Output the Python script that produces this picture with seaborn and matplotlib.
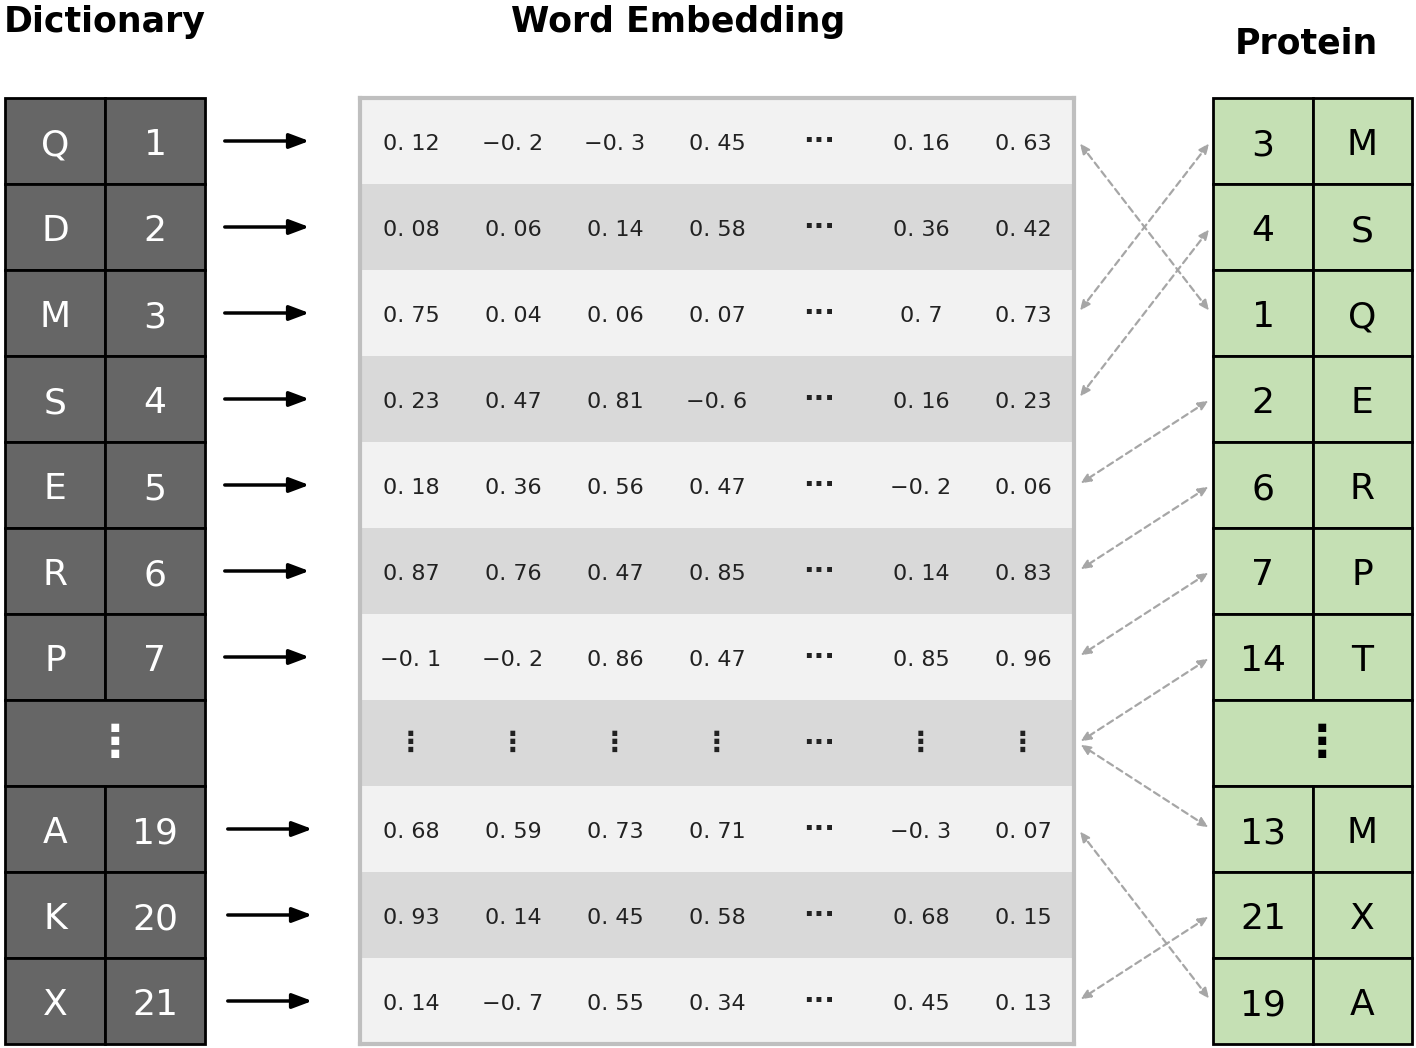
import matplotlib
matplotlib.use("Agg")
import matplotlib.pyplot as plt
from matplotlib.patches import Rectangle
import numpy as np
import seaborn as sns

# dictionary (letter -> index)
dict_letters = ["Q", "D", "M", "S", "E", "R", "P", "⋮", "A", "K", "X"]
dict_index = ["1", "2", "3", "4", "5", "6", "7", "", "19", "20", "21"]

# embedding matrix, shown as text
emb = [
    ["0. 12", "−0. 2", "−0. 3", "0. 45", "···", "0. 16", "0. 63"],
    ["0. 08", "0. 06", "0. 14", "0. 58", "···", "0. 36", "0. 42"],
    ["0. 75", "0. 04", "0. 06", "0. 07", "···", "0. 7", "0. 73"],
    ["0. 23", "0. 47", "0. 81", "−0. 6", "···", "0. 16", "0. 23"],
    ["0. 18", "0. 36", "0. 56", "0. 47", "···", "−0. 2", "0. 06"],
    ["0. 87", "0. 76", "0. 47", "0. 85", "···", "0. 14", "0. 83"],
    ["−0. 1", "−0. 2", "0. 86", "0. 47", "···", "0. 85", "0. 96"],
    ["⋮", "⋮", "⋮", "⋮", "···", "⋮", "⋮"],
    ["0. 68", "0. 59", "0. 73", "0. 71", "···", "−0. 3", "0. 07"],
    ["0. 93", "0. 14", "0. 45", "0. 58", "···", "0. 68", "0. 15"],
    ["0. 14", "−0. 7", "0. 55", "0. 34", "···", "0. 45", "0. 13"],
]

# protein sequence and which embedding row each residue points to
prot_index = ["3", "4", "1", "2", "6", "7", "14", "⋮", "13", "21", "19"]
prot_letters = ["M", "S", "Q", "E", "R", "P", "T", "", "M", "X", "A"]
prot_to_emb = [2, 3, 0, 4, 5, 6, 7, None, 7, 10, 8]

W, H = 1416, 1048
top, rh = 98, 86
n = len(dict_letters)
font = "Noto Sans CJK SC"

sns.set_style("white")
fig = plt.figure(figsize=(W / 100, H / 100), dpi=100)
ax = fig.add_axes([0, 0, 1, 1])
ax.set_xlim(0, W)
ax.set_ylim(H, 0)
ax.axis("off")

ax.text(105, 22, "Dictionary", ha="center", va="center", fontsize=25, fontweight="bold", color="black")
ax.text(678, 22, "Word Embedding", ha="center", va="center", fontsize=25, fontweight="bold", color="black")
ax.text(1306, 44, "Protein", ha="center", va="center", fontsize=25, fontweight="bold", color="black")

def yc(i):
    return top + rh * i + rh / 2

# left table
for i in range(n):
    y0 = top + rh * i
    if dict_index[i] == "":
        ax.add_patch(Rectangle((5, y0), 200, rh, fc="#666666", ec="black", lw=2))
        ax.text(115, yc(i), dict_letters[i], ha="center", va="center", color="white",
                fontsize=32, fontweight="bold", family=font)
    else:
        ax.add_patch(Rectangle((5, y0), 100, rh, fc="#666666", ec="black", lw=2))
        ax.add_patch(Rectangle((105, y0), 100, rh, fc="#666666", ec="black", lw=2))
        ax.text(55, yc(i) + 4, dict_letters[i], ha="center", va="center", color="white",
                fontsize=26, family=font)
        ax.text(155, yc(i) + 4, dict_index[i], ha="center", va="center", color="white",
                fontsize=26, family=font)
        off = 3 if i > 7 else 0
        ax.annotate("", xy=(312 + off, yc(i)), xytext=(222 + off, yc(i)),
                    arrowprops=dict(arrowstyle="-|>,head_length=1.2,head_width=0.45",
                                    color="black", lw=2.5))

# right table
for i in range(n):
    y0 = top + rh * i
    if prot_letters[i] == "":
        ax.add_patch(Rectangle((1213, y0), 199, rh, fc="#c5e0b4", ec="black", lw=2))
        ax.text(1322, yc(i), prot_index[i], ha="center", va="center", color="black",
                fontsize=32, fontweight="bold", family=font)
    else:
        ax.add_patch(Rectangle((1213, y0), 100, rh, fc="#c5e0b4", ec="black", lw=2))
        ax.add_patch(Rectangle((1313, y0), 99, rh, fc="#c5e0b4", ec="black", lw=2))
        ax.text(1263, yc(i) + 4, prot_index[i], ha="center", va="center", color="black",
                fontsize=26, family=font)
        ax.text(1362, yc(i) + 4, prot_letters[i], ha="center", va="center", color="black",
                fontsize=26, family=font)

# dashed links between embedding rows and protein residues
for i, j in enumerate(prot_to_emb):
    if j is None:
        continue
    ax.annotate("", xy=(1078, yc(j)), xytext=(1211, yc(i)),
                arrowprops=dict(arrowstyle="<|-|>,head_length=0.6,head_width=0.25",
                                color="#a6a6a6", lw=1.6, ls=(0, (3, 2))))

# middle embedding table as a heatmap
band = np.array([[i % 2] * len(emb[0]) for i in range(n)])
hax = fig.add_axes([360 / W, 1 - (top + rh * n) / H, 714 / W, rh * n / H])
sns.heatmap(band, ax=hax, cmap=["#f2f2f2", "#d9d9d9"], cbar=False,
            annot=np.array(emb), fmt="",
            annot_kws=dict(fontsize=16, color="#222222", family=font),
            xticklabels=False, yticklabels=False)
for t in hax.texts:
    if t.get_text() in ("···", "⋮"):
        t.set_fontweight("bold")
        t.set_fontsize(20)
    else:
        x, y = t.get_position()
        t.set_position((x, y + 0.04))
for s in hax.spines.values():
    s.set_visible(True)
    s.set_color("#bfbfbf")
    s.set_linewidth(3)

fig.savefig("out.png", dpi=100)
